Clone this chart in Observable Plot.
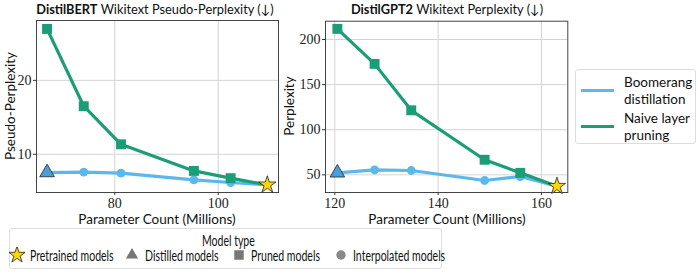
<!DOCTYPE html>
<html><head><meta charset="utf-8">
<script src="https://cdn.jsdelivr.net/npm/d3@7"></script>
<script src="https://cdn.jsdelivr.net/npm/@observablehq/plot@0.6"></script>
<style>
body{margin:0;background:#fff;font-family:Lato,"DejaVu Sans",sans-serif;}
#wrap{position:relative;width:698px;height:279px;overflow:hidden;}
.abs{position:absolute;white-space:nowrap;color:#111;}
.title{font-size:12.8px;transform:translate(-50%,-50%);}
.title b{font-weight:700;}
.xl{font-size:13.5px;transform:translate(-50%,-50%);}
.yl{font-size:13.5px;transform:translate(-50%,-50%) rotate(-90deg);}
.lt{position:absolute;white-space:nowrap;transform:scaleX(0.71);transform-origin:0 0;font-size:14.8px;line-height:16px;}
</style></head><body>
<div id="wrap"></div>
<script>
// ---- data ----
const bertParams = [66.9, 74.0, 81.2, 95.3, 102.4, 109.5];
const bertBoomerang = [7.53, 7.6, 7.44, 6.54, 6.18, 5.87];
const bertPruning = [26.96, 16.5, 11.35, 7.75, 6.77, 5.87];
const gptParams = [120.5, 127.7, 134.8, 149.0, 155.9, 163.0];
const gptBoomerang = [52.2, 55.5, 54.8, 43.7, 48.1, 37.4];
const gptPruning = [211.8, 173.0, 121.5, 66.7, 52.2, 37.4];
const seriesNames = ["Boomerang distillation", "Naive layer pruning"];
const modelTypes = ["Pretrained models", "Distilled models", "Pruned models", "Interpolated models"];
const bertXTicks = [80, 100];
const bertYTicks = [10, 20];
const gptXTicks = [120, 140, 160];
const gptYTicks = [50, 100, 150, 200];

const BLUE = "#5cb8ea", GREEN = "#1b9e77", TRI = "#4a9fd8", STAR = "#ffd700";

function rows(xs, ys) { return xs.map((x, i) => ({x, y: ys[i], i})); }

function panel(xs, blue, green, xDom, yDom, xTicks, yTicks, m) {
  const b = rows(xs, blue), g = rows(xs, green), n = xs.length - 1;
  return Plot.plot({
    width: 290, height: 235,
    marginTop: m.t, marginLeft: m.l, marginRight: m.r, marginBottom: m.b,
    x: {domain: xDom}, y: {domain: yDom},
    style: {fontFamily: "Liberation Serif, serif", fontSize: "14px", color: "#222", background: "white"},
    marks: [
      Plot.gridX(xTicks, {stroke: "#d4d4d4", strokeOpacity: 1}),
      Plot.gridY(yTicks, {stroke: "#d4d4d4", strokeOpacity: 1}),
      Plot.axisX(xTicks, {tickSize: 3, tickPadding: 3, label: null, fontSize: 14, stroke: "#333"}),
      Plot.axisY(yTicks, {tickSize: 3, tickPadding: 2, label: null, fontSize: 14, stroke: "#333"}),
      Plot.frame({stroke: "#444", strokeWidth: 1}),
      Plot.line(b, {x: "x", y: "y", stroke: BLUE, strokeWidth: 3.2}),
      Plot.dot(b.filter(d => d.i > 0 && d.i < n), {x: "x", y: "y", symbol: "circle", r: 4.4, fill: BLUE}),
      Plot.line(g, {x: "x", y: "y", stroke: GREEN, strokeWidth: 3.2}),
      Plot.dot(g.filter(d => d.i < n), {x: "x", y: "y", symbol: "square", r: 5.6, fill: GREEN}),
      Plot.dot(b.filter(d => d.i === 0), {x: "x", y: "y", symbol: "triangle", r: 5.4, fill: TRI, stroke: "#222", strokeWidth: 0.8}),
      Plot.dot(b.filter(d => d.i === n), {x: "x", y: "y", symbol: "star", r: 5.4, fill: STAR, stroke: "#222", strokeWidth: 0.8})
    ]
  });
}

const wrap = document.getElementById("wrap");
function place(el, left, top) { el.style.position = "absolute"; el.style.left = left + "px"; el.style.top = top + "px"; wrap.appendChild(el); }
function label(html, cls, x, y) { const d = document.createElement("div"); d.className = "abs " + cls; d.innerHTML = html; d.style.left = x + "px"; d.style.top = y + "px"; wrap.appendChild(d); }

place(panel(bertParams, bertBoomerang, bertPruning, [64.86, 111.66], [4.83, 28.1], bertXTicks, bertYTicks, {t: 20, l: 36, r: 12, b: 43}), 0, 0);
place(panel(gptParams, gptBoomerang, gptPruning, [118.2, 165.1], [30.4, 220.3], gptXTicks, gptYTicks, {t: 20.7, l: 35, r: 12.7, b: 43}), 290, 0);

label("<b>DistilBERT</b> Wikitext Pseudo-Perplexity (↓)", "title", 155, 9);
label("<b>DistilGPT2</b> Wikitext Perplexity (↓)", "title", 447, 9);
label("Parameter Count (Millions)", "xl", 157, 219);
label("Parameter Count (Millions)", "xl", 447, 219);
label("Pseudo-Perplexity", "yl", 10, 106);
label("Perplexity", "yl", 289, 106);

// right legend (series)
const leg = document.createElement("div");
leg.style.cssText = "position:absolute;left:575px;top:69px;width:121px;height:75px;border:1px solid #ddd;border-radius:3px;box-sizing:border-box;font-size:13.5px;color:#111;";
const sc = [BLUE, GREEN];
const words = [["Boomerang", "distillation"], ["Naive layer", "pruning"]];
seriesNames.forEach((s, k) => {
  const item = document.createElement("div");
  item.style.cssText = `position:absolute;left:0;top:${4 + k * 36}px;width:120px;height:34px;`;
  item.innerHTML = `<div style="position:absolute;left:5px;top:15px;width:33px;height:3px;background:${sc[k]}"></div>
    <div style="position:absolute;left:48px;top:0;line-height:16.5px">${words[k][0]}<br>${words[k][1]}</div>`;
  item.title = s;
  leg.appendChild(item);
});
wrap.appendChild(leg);

// bottom legend (model types)
const bl = document.createElement("div");
bl.style.cssText = "position:absolute;left:9px;top:228px;width:433px;height:41px;border:1px solid #ddd;border-radius:3px;box-sizing:border-box;color:#111;";
const mt = document.createElement("div");
mt.className = "lt"; mt.textContent = "Model type"; mt.style.left = "192px"; mt.style.top = "3px";
bl.appendChild(mt);
const symSvg = [
  `<svg width="16" height="16" viewBox="-8 -8 16 16"><path d="${d3.symbol(d3.symbolStar, 85)()}" fill="${STAR}" stroke="#222" stroke-width="0.8"/></svg>`,
  `<svg width="16" height="16" viewBox="-8 -8 16 16"><path d="${d3.symbol(d3.symbolTriangle, 65)()}" fill="#777"/></svg>`,
  `<svg width="16" height="16" viewBox="-8 -8 16 16"><path d="${d3.symbol(d3.symbolSquare, 90)()}" fill="#777"/></svg>`,
  `<svg width="16" height="16" viewBox="-8 -8 16 16"><path d="${d3.symbol(d3.symbolCircle, 70)()}" fill="#888"/></svg>`
];
const symX = [-1, 114, 221, 323], txtX = [20, 135, 241, 343];
modelTypes.forEach((t, k) => {
  const s = document.createElement("div");
  s.style.cssText = `position:absolute;left:${symX[k]}px;top:18px;width:16px;height:16px;`;
  s.innerHTML = symSvg[k];
  bl.appendChild(s);
  const tx = document.createElement("div");
  tx.className = "lt";
  tx.style.left = txtX[k] + "px"; tx.style.top = "18px";
  tx.textContent = t;
  bl.appendChild(tx);
});
wrap.appendChild(bl);
</script>
</body></html>
